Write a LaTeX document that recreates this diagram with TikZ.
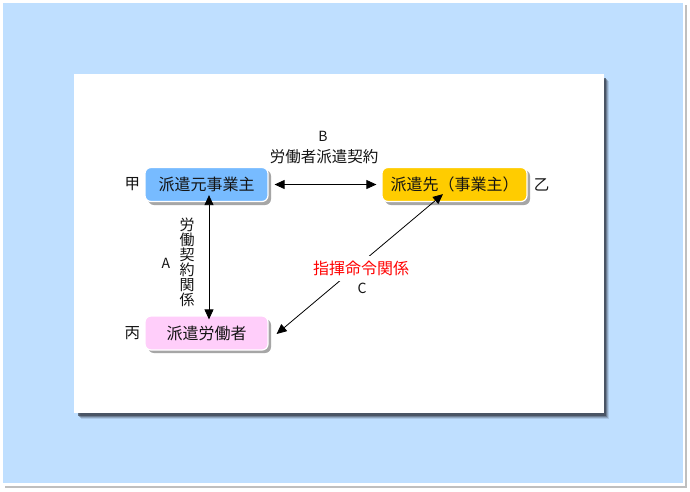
\documentclass[tikz,border=0pt]{standalone}
\usepackage{fontspec}
\setmainfont{Noto Sans CJK JP}
\usetikzlibrary{arrows.meta,calc,positioning}
\definecolor{bgblue}{RGB}{191,223,255}
\definecolor{boxblue}{RGB}{119,187,255}
\definecolor{boxyellow}{RGB}{255,204,0}
\definecolor{boxpink}{RGB}{255,206,250}
\definecolor{panelshadow}{RGB}{60,68,82}
\definecolor{txt}{RGB}{20,20,20}
\tikzset{
  partybox/.style={draw=white, line width=1.2pt, rounded corners=6pt, minimum height=34pt, inner sep=0pt, font=\fontsize{16}{18}\selectfont, text=txt},
  boxshadow/.style={fill=black!35, rounded corners=6pt, draw=none},
  conn/.style={draw=black, line width=0.8pt, {Triangle[length=10pt,width=9pt]}-{Triangle[length=10pt,width=9pt]}},
  lbl/.style={font=\fontsize{15.5}{15}\selectfont, text=txt, inner sep=1pt},
  smalllbl/.style={font=\fontsize{14}{15}\selectfont, text=txt, inner sep=1pt}
}
\begin{document}
\begin{tikzpicture}[x=1pt,y=-1pt]
\useasboundingbox (0,0) rectangle (690,491);
% outer panel with shadow
\fill[black!25] (5,5) rectangle (687,488);
\fill[white] (2,2) rectangle (685,486);
\fill[bgblue] (3,3) rectangle (683,483);
% inner panel shadow (soft)
\foreach \o/\op in {7/0.15,6/0.25,5/0.4,4/0.7}{
  \fill[panelshadow,opacity=\op] (74+\o,74+\o) rectangle (604+\o-2,414+\o-2);
}
\fill[white] (74,74) rectangle (604,413);
% box shadows
\fill[boxshadow] (148,170) rectangle (271,205);
\fill[boxshadow] (385,170) rectangle (530,205);
\fill[boxshadow] (148,319) rectangle (271,353);
% boxes
\node[partybox, fill=boxblue, minimum width=123pt] (moto) at (206.5,184.5) {派遣元事業主};
\node[partybox, fill=boxyellow, minimum width=145pt] (saki) at (454.5,184.5) {派遣先（事業主）};
\node[partybox, fill=boxpink, minimum width=123pt] (rodo) at (206.5,333) {派遣労働者};
% side labels
\node[lbl, left=3pt of moto.west] (ko) {甲};
\node[lbl, right=5pt of saki.east] (otsu) {乙};
\node[lbl, left=3pt of rodo.west] (hei) {丙};
% B connector
\draw[conn] ([xshift=6pt]moto.east) -- ([xshift=-5pt]saki.west);
\node[smalllbl] (bl) at (323,136) {B};
\node[lbl] (bt) at (324,157) {労働者派遣契約};
% A connector
\draw[conn] ([xshift=2.5pt,yshift=7pt]moto.south) -- ([xshift=2.5pt,yshift=-4pt]rodo.north);
\node[smalllbl] (al) at (166,263) {A};
\node[font=\fontsize{15}{15}\selectfont, text=txt, inner sep=1pt, align=center] (at) at (187,262) {労\\働\\契\\約\\関\\係};
% C connector
\draw[conn] ([yshift=-1pt,xshift=8pt]rodo.east) -- ([xshift=-11.5pt,yshift=8pt]saki.south);
\node[font=\fontsize{16}{18}\selectfont, text=red, fill=white, inner sep=0pt, minimum height=25pt, minimum width=98pt] (ct) at (361,268) {指揮命令関係};
\node[smalllbl] (cl) at (362,288) {C};
\end{tikzpicture}
\end{document}
